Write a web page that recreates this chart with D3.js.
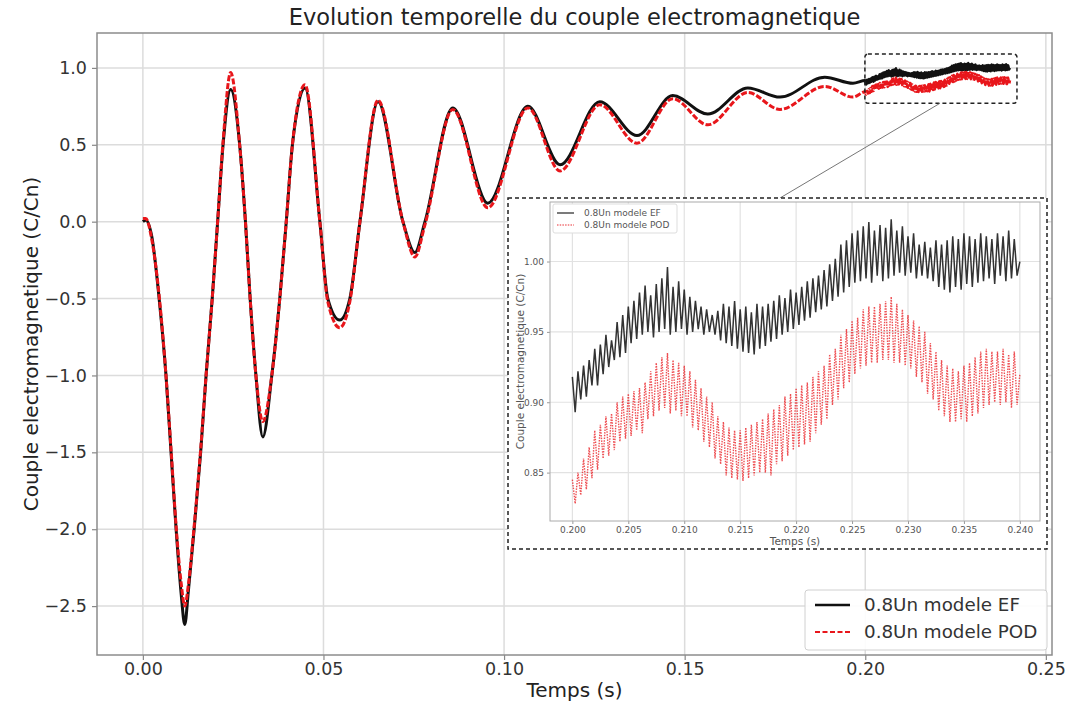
<!DOCTYPE html>
<html><head><meta charset="utf-8">
<script src="https://cdn.jsdelivr.net/npm/d3@7"></script>
<style>body{margin:0;background:#fff}svg{display:block;font-family:"DejaVu Sans",sans-serif}</style>
</head><body><svg id="c" width="1081" height="709"></svg>
<script>
// ---------------- DATA ----------------
const title = "Evolution temporelle du couple electromagnetique";
const xLabel = "Temps (s)";
const yLabel = "Couple electromagnetique (C/Cn)";
const seriesNames = ["0.8Un modele EF", "0.8Un modele POD"];
const xTicks = [0.00, 0.05, 0.10, 0.15, 0.20, 0.25];
const yTicks = [-2.5, -2.0, -1.5, -1.0, -0.5, 0.0, 0.5, 1.0];
const insetXTicks = [0.200, 0.205, 0.210, 0.215, 0.220, 0.225, 0.230, 0.235, 0.240];
const insetYTicks = [0.85, 0.90, 0.95, 1.00];

// main transient (t < 0.2 s)
const mainTime = [0,0.0008,0.0025,0.0045,0.0064,0.0078,0.0092,0.0106,0.0116,0.0126,0.0142,0.0160,0.0175,0.0192,0.0207,0.0222,0.0243,0.0268,0.0284,0.0297,0.0313,0.0332,0.0357,0.0379,0.0397,0.0414,0.0449,0.0490,0.0512,0.0545,0.0573,0.0601,0.0651,0.0720,0.0753,0.0781,0.0858,0.0955,0.1066,0.1155,0.1265,0.1368,0.1467,0.1564,0.1675,0.1764,0.1888,0.1966];
const mainEF = [0.00,0.01,-0.10,-0.50,-1.00,-1.50,-2.00,-2.42,-2.62,-2.40,-2.00,-1.50,-1.00,-0.50,0.00,0.50,0.86,0.50,0.00,-0.50,-1.00,-1.40,-1.00,-0.50,0.00,0.50,0.87,0.00,-0.50,-0.64,-0.50,0.00,0.78,0.00,-0.20,0.00,0.74,0.12,0.75,0.37,0.78,0.56,0.82,0.70,0.87,0.81,0.94,0.90];
const mainPOD = [0.02,0.02,-0.12,-0.48,-1.00,-1.48,-1.98,-2.35,-2.50,-2.36,-1.98,-1.48,-1.00,-0.50,0.00,0.52,0.97,0.50,0.00,-0.50,-1.00,-1.30,-1.00,-0.50,0.00,0.50,0.89,0.00,-0.52,-0.69,-0.52,0.00,0.79,0.00,-0.23,-0.02,0.73,0.09,0.74,0.33,0.76,0.51,0.80,0.63,0.84,0.73,0.88,0.81];

// zoomed window 0.200 - 0.240 s, sampled every 0.25 ms
const zoomStart = 0.200, zoomStep = 0.00025;
const zoomEF = [
0.918,0.893,0.922,0.902, 0.926,0.904,0.930,0.912, 0.938,0.912,0.941,0.920, 0.948,0.925,0.944,0.930,
0.957,0.932,0.962,0.935, 0.968,0.942,0.972,0.945, 0.978,0.948,0.983,0.950, 0.976,0.946,0.984,0.950,
0.988,0.952,0.996,0.948, 0.982,0.950,0.986,0.952, 0.980,0.948,0.975,0.950, 0.972,0.952,0.968,0.948,
0.966,0.950,0.962,0.948, 0.965,0.944,0.970,0.942, 0.968,0.940,0.972,0.938, 0.966,0.936,0.968,0.935,
0.964,0.934,0.970,0.938, 0.968,0.940,0.970,0.943, 0.972,0.945,0.976,0.948, 0.974,0.950,0.980,0.952,
0.978,0.955,0.982,0.958, 0.986,0.960,0.988,0.964, 0.990,0.966,0.994,0.968, 0.998,0.972,1.002,0.975,
1.012,0.978,1.015,0.982, 1.020,0.985,1.022,0.986, 1.025,0.988,1.028,0.985, 1.022,0.990,1.026,0.986,
1.024,0.988,1.030,0.990, 1.022,0.992,1.025,0.990, 1.018,0.992,1.020,0.988, 1.012,0.990,1.014,0.988,
1.010,0.986,1.015,0.982, 1.012,0.980,1.015,0.978, 1.018,0.982,1.016,0.980, 1.020,0.984,1.018,0.982,
1.016,0.985,1.020,0.986, 1.018,0.988,1.016,0.984, 1.020,0.990,1.018,0.986, 1.022,0.988,1.016,0.990,
1.000];
const zoomPOD = [
0.845,0.828,0.850,0.834, 0.860,0.838,0.868,0.846, 0.880,0.852,0.884,0.860, 0.890,0.862,0.892,0.866,
0.900,0.872,0.904,0.874, 0.906,0.876,0.908,0.880, 0.910,0.878,0.914,0.888, 0.922,0.890,0.928,0.894,
0.932,0.896,0.935,0.892, 0.930,0.894,0.928,0.890, 0.926,0.890,0.922,0.882, 0.916,0.880,0.910,0.872,
0.904,0.868,0.900,0.860, 0.890,0.856,0.886,0.848, 0.882,0.846,0.880,0.845, 0.880,0.844,0.882,0.846,
0.884,0.848,0.886,0.850, 0.888,0.850,0.892,0.848, 0.895,0.856,0.898,0.858, 0.904,0.862,0.906,0.866,
0.910,0.868,0.912,0.870, 0.914,0.872,0.918,0.878, 0.922,0.884,0.926,0.888, 0.934,0.898,0.938,0.902,
0.948,0.910,0.952,0.914, 0.958,0.920,0.960,0.924, 0.966,0.926,0.968,0.928, 0.968,0.928,0.970,0.930,
0.972,0.930,0.975,0.928, 0.970,0.928,0.966,0.926, 0.962,0.924,0.958,0.918, 0.954,0.914,0.950,0.906,
0.942,0.902,0.936,0.894, 0.930,0.890,0.926,0.886, 0.924,0.886,0.922,0.888, 0.926,0.886,0.928,0.890,
0.932,0.892,0.936,0.896, 0.938,0.898,0.936,0.900, 0.936,0.898,0.938,0.900, 0.934,0.896,0.936,0.898,
0.920];
// zoom rectangle drawn on the main axes (data units)
const zoomBoxT = [0.1999, 0.2420];
const zoomBoxV = [0.77, 1.09];

// ---------------- BUILD ----------------
const zoomTime = zoomEF.map((_, i) => +(zoomStart + i * zoomStep).toFixed(5));
const efMain = mainTime.map((t, i) => [t, mainEF[i]]).concat(zoomTime.map((t, i) => [t, zoomEF[i]]));
const podMain = mainTime.map((t, i) => [t, mainPOD[i]]).concat(zoomTime.map((t, i) => [t, zoomPOD[i]]));
const efZoom = zoomTime.map((t, i) => [t, zoomEF[i]]);
const podZoom = zoomTime.map((t, i) => [t, zoomPOD[i]]);

const RED = "#e8161b", BLK = "#111";
const svg = d3.select("#c");

// main axes
const M = {l: 97, r: 1052, t: 33, b: 655};
const x = d3.scaleLinear().domain([-0.0127, 0.2517]).range([M.l, M.r]);
const y = d3.scaleLinear().domain([-2.818, 1.227]).range([M.b, M.t]);
const minus = s => s.replace("-", "\u2212");

const g = svg.append("g");
// grid
g.append("g").selectAll("line").data(xTicks).join("line")
  .attr("x1", d => x(d)).attr("x2", d => x(d)).attr("y1", M.t).attr("y2", M.b)
  .attr("stroke", "#dcdcdc").attr("stroke-width", 1.5);
g.append("g").selectAll("line").data(yTicks).join("line")
  .attr("y1", d => y(d)).attr("y2", d => y(d)).attr("x1", M.l).attr("x2", M.r)
  .attr("stroke", "#dcdcdc").attr("stroke-width", 1.5);

// axes
const xAxis = d3.axisBottom(x).tickValues(xTicks).tickFormat(d3.format(".2f")).tickSize(5).tickPadding(3);
const yAxis = d3.axisLeft(y).tickValues(yTicks).tickFormat(d => minus(d3.format(".1f")(d))).tickSize(5).tickPadding(5);
const gx = g.append("g").attr("transform", `translate(0,${M.b})`).call(xAxis);
const gy = g.append("g").attr("transform", `translate(${M.l},0)`).call(yAxis);
[gx, gy].forEach(a => {
  a.select(".domain").remove();
  a.selectAll(".tick line").attr("stroke", "#888").attr("stroke-width", 1.2);
  a.selectAll(".tick text").attr("fill", "#333").style("font-size", "17.5px").style("font-family", "DejaVu Sans");
});

// lines
const lineMain = d3.line().x(d => x(d[0])).y(d => y(d[1])).curve(d3.curveMonotoneX);
g.append("path").datum(efMain).attr("d", lineMain).attr("fill", "none")
  .attr("stroke", BLK).attr("stroke-width", 3).attr("stroke-linejoin", "round");
g.append("path").datum(podMain).attr("d", lineMain).attr("fill", "none")
  .attr("stroke", RED).attr("stroke-width", 3).attr("stroke-dasharray", "6,2").attr("stroke-linejoin", "round");

// frame
g.append("rect").attr("x", M.l).attr("y", M.t).attr("width", M.r - M.l).attr("height", M.b - M.t)
  .attr("fill", "none").attr("stroke", "#8c8c8c").attr("stroke-width", 1.5);

// zoom box on main
g.append("rect").attr("x", x(zoomBoxT[0])).attr("y", y(zoomBoxV[1]))
  .attr("width", x(zoomBoxT[1]) - x(zoomBoxT[0])).attr("height", y(zoomBoxV[0]) - y(zoomBoxV[1]))
  .attr("rx", 3).attr("fill", "none").attr("stroke", "#222").attr("stroke-width", 1.5).attr("stroke-dasharray", "4,3");

// connector
g.append("line").attr("x1", 940).attr("y1", y(zoomBoxV[0])).attr("x2", 780).attr("y2", 198)
  .attr("stroke", "#777").attr("stroke-width", 1);

// titles
svg.append("text").attr("x", (M.l + M.r) / 2).attr("y", 25).attr("text-anchor", "middle")
  .style("font-size", "22.5px").attr("fill", "#222").text(title);
svg.append("text").attr("x", (M.l + M.r) / 2).attr("y", 697).attr("text-anchor", "middle")
  .style("font-size", "20px").attr("fill", "#222").text(xLabel);
svg.append("text").attr("transform", `translate(38,${(M.t + M.b) / 2}) rotate(-90)`).attr("text-anchor", "middle")
  .style("font-size", "20px").attr("fill", "#222").text(yLabel);

// main legend
const lg = svg.append("g");
lg.append("rect").attr("x", 805).attr("y", 590).attr("width", 242).attr("height", 60).attr("rx", 3)
  .attr("fill", "#fff").attr("fill-opacity", 0.9).attr("stroke", "#d0d0d0").attr("stroke-width", 1);
lg.append("line").attr("x1", 815).attr("x2", 850).attr("y1", 605).attr("y2", 605).attr("stroke", BLK).attr("stroke-width", 2.6);
lg.append("line").attr("x1", 815).attr("x2", 850).attr("y1", 632).attr("y2", 632).attr("stroke", RED).attr("stroke-width", 2).attr("stroke-dasharray", "5,2.5");
lg.selectAll("text").data(seriesNames).join("text").attr("x", 864).attr("y", (d, i) => 605 + i * 27)
  .attr("dy", "0.35em").style("font-size", "18.3px").attr("fill", "#333").text(d => d);

// ---------------- INSET ----------------
svg.append("rect").attr("x", 508).attr("y", 198).attr("width", 539).attr("height", 351)
  .attr("fill", "#fff").attr("stroke", "#222").attr("stroke-width", 1.5).attr("stroke-dasharray", "4,3");
const I = {l: 550, r: 1040, t: 202, b: 521};
const xi = d3.scaleLinear().domain([0.198, 0.2418]).range([I.l, I.r]);
const yi = d3.scaleLinear().domain([0.8156, 1.0423]).range([I.b, I.t]);
const gi = svg.append("g");
gi.append("g").selectAll("line").data(insetXTicks).join("line")
  .attr("x1", d => xi(d)).attr("x2", d => xi(d)).attr("y1", I.t).attr("y2", I.b)
  .attr("stroke", "#e2e2e2").attr("stroke-width", 1.2);
gi.append("g").selectAll("line").data(insetYTicks).join("line")
  .attr("y1", d => yi(d)).attr("y2", d => yi(d)).attr("x1", I.l).attr("x2", I.r)
  .attr("stroke", "#e2e2e2").attr("stroke-width", 1.2);
const gix = gi.append("g").attr("transform", `translate(0,${I.b})`)
  .call(d3.axisBottom(xi).tickValues(insetXTicks).tickFormat(d3.format(".3f")).tickSize(3).tickPadding(3));
const giy = gi.append("g").attr("transform", `translate(${I.l},0)`)
  .call(d3.axisLeft(yi).tickValues(insetYTicks).tickFormat(d3.format(".2f")).tickSize(3).tickPadding(3));
[gix, giy].forEach(a => {
  a.select(".domain").remove();
  a.selectAll(".tick line").attr("stroke", "#999");
  a.selectAll(".tick text").attr("fill", "#555").style("font-size", "9px").style("font-family", "DejaVu Sans");
});
const lineI = d3.line().x(d => xi(d[0])).y(d => yi(d[1]));
gi.append("path").datum(efZoom).attr("d", lineI).attr("fill", "none").attr("stroke", "#333").attr("stroke-width", 1.5);
gi.append("path").datum(podZoom).attr("d", lineI).attr("fill", "none").attr("stroke", RED)
  .attr("stroke-opacity", 0.75).attr("stroke-width", 1.4).attr("stroke-dasharray", "1.5,1.2");
gi.append("rect").attr("x", I.l).attr("y", I.t).attr("width", I.r - I.l).attr("height", I.b - I.t)
  .attr("fill", "none").attr("stroke", "#aaa").attr("stroke-width", 1);
gi.append("text").attr("x", (I.l + I.r) / 2).attr("y", 545).attr("text-anchor", "middle")
  .style("font-size", "10.5px").attr("fill", "#555").text(xLabel);
gi.append("text").attr("transform", `translate(524,${(I.t + I.b) / 2}) rotate(-90)`).attr("text-anchor", "middle")
  .style("font-size", "10.5px").attr("fill", "#555").text(yLabel);
// inset legend
gi.append("rect").attr("x", 553).attr("y", 204).attr("width", 124).attr("height", 29).attr("rx", 2)
  .attr("fill", "#fff").attr("stroke", "#ddd");
gi.append("line").attr("x1", 557).attr("x2", 574).attr("y1", 213).attr("y2", 213).attr("stroke", "#333").attr("stroke-width", 1.3);
gi.append("line").attr("x1", 557).attr("x2", 574).attr("y1", 225).attr("y2", 225).attr("stroke", RED)
  .attr("stroke-opacity", 0.6).attr("stroke-width", 1.3).attr("stroke-dasharray", "1.5,1.2");
gi.selectAll("text.lg").data(seriesNames).join("text").attr("class", "lg").attr("x", 584).attr("y", (d, i) => 213 + i * 12)
  .attr("dy", "0.35em").style("font-size", "9px").attr("fill", "#555").text(d => d);
</script></body></html>
